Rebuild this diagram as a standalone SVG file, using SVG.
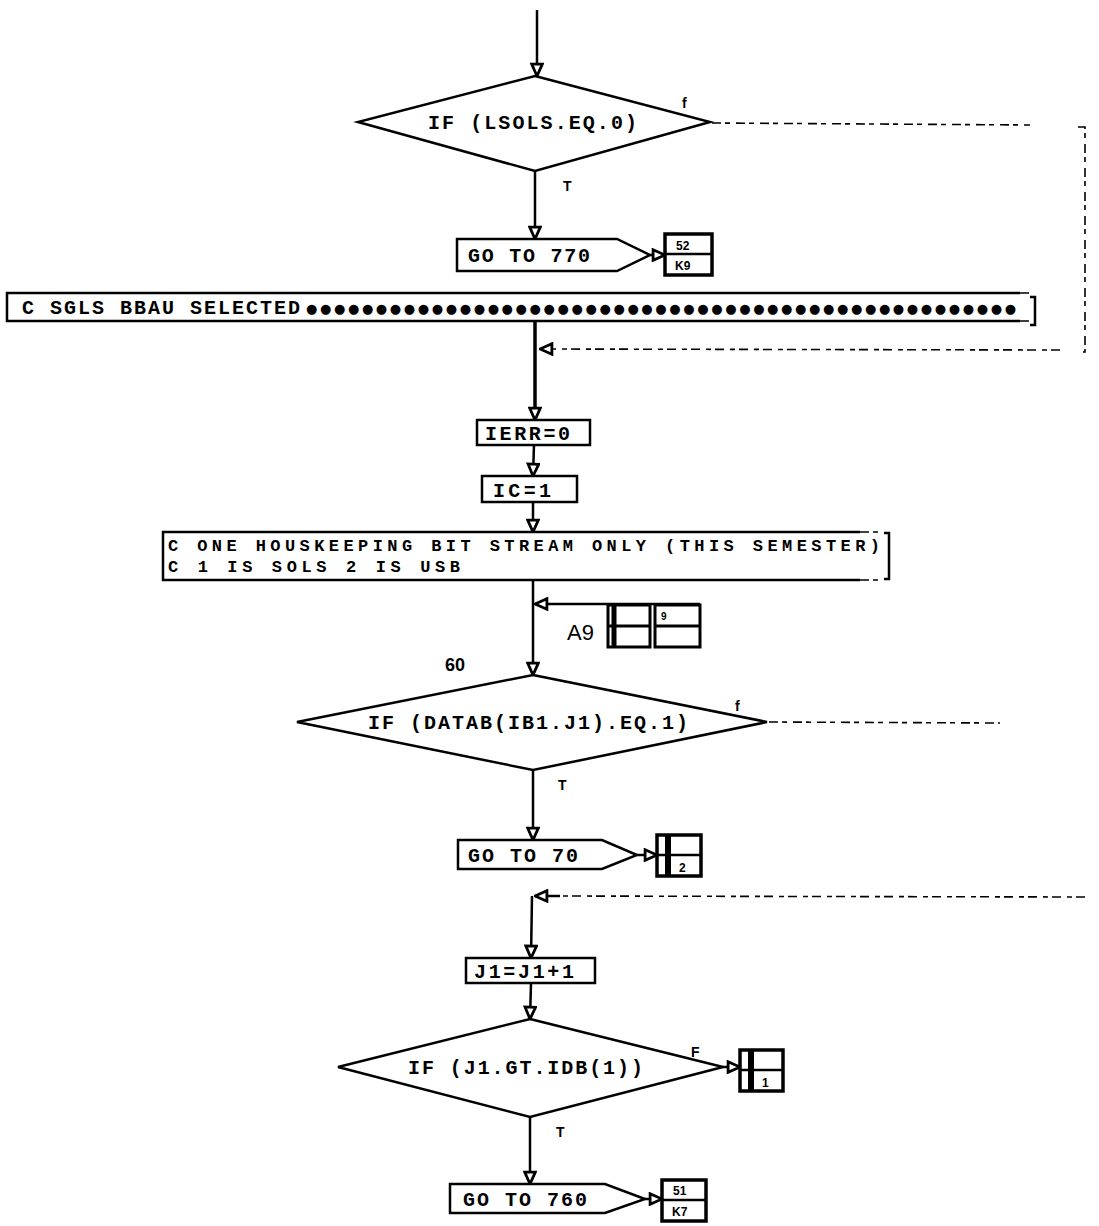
<svg xmlns="http://www.w3.org/2000/svg" width="1099" height="1226" viewBox="0 0 1099 1226">
<defs>
<marker id="arr" markerUnits="userSpaceOnUse" markerWidth="15" markerHeight="14" viewBox="0 0 10 10" refX="9.5" refY="5" orient="auto">
<path d="M1,1.2 L9.5,5 L1,8.8 z" fill="#fff" stroke="#000" stroke-width="2"/>
</marker>
</defs>
<style>
.ln{fill:none;stroke:#000;stroke-width:2.5}
.thk{fill:none;stroke:#000;stroke-width:3.5}
.dsh{fill:none;stroke:#000;stroke-width:1.6;stroke-dasharray:9 4 5 6}
.shp{fill:#fff;stroke:#000;stroke-width:2.5}
.cb{fill:#fff;stroke:#000;stroke-width:3.5}
.t{font-family:"Liberation Mono","DejaVu Sans Mono",monospace;font-weight:bold;font-size:20px;fill:#000}
.cm{font-family:"Liberation Mono","DejaVu Sans Mono",monospace;font-weight:bold;font-size:17px;fill:#000}
.s{font-family:"Liberation Sans","DejaVu Sans",sans-serif;font-weight:bold;font-size:14px;fill:#000}
.c{font-family:"Liberation Sans","DejaVu Sans",sans-serif;font-weight:bold;font-size:12px;fill:#000}
</style>
<rect width="1099" height="1226" fill="#fff"/>

<g id="connectors">
<path class="ln" d="M537,10 L537,76" marker-end="url(#arr)"/>
<path class="ln" d="M535,171 L535,239" marker-end="url(#arr)"/>
<path class="ln" d="M650,255 L665,255" marker-end="url(#arr)"/>
<path class="dsh" d="M712,123 L1030,125"/>
<path class="dsh" d="M1078,127 L1085,127 L1085,352 L1078,352"/>
<path class="dsh" d="M1060,350 L540,349" marker-end="url(#arr)"/>
<path class="thk" d="M535,322 L535,420" marker-end="url(#arr)"/>
<path class="ln" d="M534,445 L533,476" marker-end="url(#arr)"/>
<path class="ln" d="M533,502 L533,532" marker-end="url(#arr)"/>
<path class="ln" d="M533,580 L533,675" marker-end="url(#arr)"/>
<path class="ln" d="M700,604 L535,604" marker-end="url(#arr)"/>
<path class="ln" d="M533,770 L533,840" marker-end="url(#arr)"/>
<path class="ln" d="M637,855 L657,855" marker-end="url(#arr)"/>
<path class="dsh" d="M769,722 L1000,723"/>
<path class="dsh" d="M1085,897 L548,896"/>
<path class="ln" d="M560,896 L535,896" marker-end="url(#arr)"/>
<path class="ln" d="M532,896 L531,958" marker-end="url(#arr)"/>
<path class="ln" d="M531,983 L530,1019" marker-end="url(#arr)"/>
<path class="ln" d="M723,1067 L740,1067" marker-end="url(#arr)"/>
<path class="ln" d="M530,1117 L530,1184" marker-end="url(#arr)"/>
<path class="ln" d="M645,1199 L662,1199" marker-end="url(#arr)"/>
<text class="s" x="682" y="108">f</text>
<text class="s" x="563" y="191">T</text>
<text class="s" x="735" y="711">f</text>
<text class="s" x="558" y="790">T</text>
<text class="s" x="691" y="1057">F</text>
<text class="s" x="556" y="1137">T</text>
</g>

<g id="dec1">
<polygon class="shp" points="535,76 710,122 535,171 358,122"/>
<text class="t" x="428" y="129" textLength="209" lengthAdjust="spacing">IF (LSOLS.EQ.0)</text>
</g>

<g id="goto770">
<polygon class="shp" points="457,239 617,239 650,255 617,271 457,271"/>
<text class="t" x="468" y="262" textLength="122" lengthAdjust="spacing">GO TO 770</text>
</g>
<g id="conn1">
<rect class="cb" x="665" y="234" width="47" height="41"/>
<line class="ln" x1="665" y1="254" x2="712" y2="254"/>
<text class="c" x="676" y="250">52</text>
<text class="c" x="675" y="270">K9</text>
</g>

<g id="comment1">
<path class="ln" d="M1020,293 L7,293 L7,321 L1020,321"/>
<path class="dsh" d="M1020,293 L1032,293 M1020,321 L1032,321"/>
<path class="ln" d="M1030,297 L1035,297 L1035,325 L1030,325"/>
<text class="t" x="22" y="314" textLength="278" lengthAdjust="spacing">C SGLS BBAU SELECTED</text>
<text x="306" y="313" font-family="DejaVu Sans,sans-serif" font-size="13" textLength="710" lengthAdjust="spacing">●●●●●●●●●●●●●●●●●●●●●●●●●●●●●●●●●●●●●●●●●●●●●●●●●●●</text>
</g>

<g id="ierr">
<rect class="shp" x="477" y="420" width="113" height="25"/>
<text class="t" x="485" y="440" textLength="85" lengthAdjust="spacing">IERR=0</text>
</g>

<g id="ic">
<rect class="shp" x="482" y="476" width="95" height="26"/>
<text class="t" x="493" y="497" textLength="58" lengthAdjust="spacing">IC=1</text>
</g>

<g id="comment2">
<path class="ln" d="M860,532 L163,532 L163,580 L860,580"/>
<path class="dsh" d="M860,532 L884,532 M860,580 L884,580"/>
<path class="ln" d="M884,533 L889,533 L889,579 L884,579"/>
<text class="cm" x="168" y="551" textLength="712" lengthAdjust="spacing">C ONE HOUSKEEPING BIT STREAM ONLY  (THIS SEMESTER)</text>
<text class="cm" x="168" y="572" textLength="292" lengthAdjust="spacing">C 1 IS SOLS  2 IS USB</text>
</g>

<g id="connA9">
<text x="567" y="640" font-family="Liberation Sans,DejaVu Sans,sans-serif" font-size="22" fill="#000">A9</text>
<rect x="608" y="605" width="42" height="42" fill="#fff" stroke="#000" stroke-width="3"/>
<line x1="608" y1="626" x2="650" y2="626" stroke="#000" stroke-width="3"/>
<line x1="614" y1="605" x2="614" y2="647" stroke="#000" stroke-width="5"/>
<rect x="655" y="605" width="45" height="42" fill="#fff" stroke="#000" stroke-width="3"/>
<line x1="655" y1="626" x2="700" y2="626" stroke="#000" stroke-width="3"/>
<text class="c" x="661" y="620" style="font-size:10px">9</text>
</g>

<text id="label60" class="s" x="445" y="671" style="font-size:18px">60</text>

<g id="dec2">
<polygon class="shp" points="533,675 767,722 533,770 297,722"/>
<text class="t" x="368" y="729" textLength="320" lengthAdjust="spacing">IF (DATAB(IB1.J1).EQ.1)</text>
</g>

<g id="goto70">
<polygon class="shp" points="458,840 602,840 637,855 602,869 458,869"/>
<text class="t" x="468" y="862" textLength="110" lengthAdjust="spacing">GO TO 70</text>
</g>
<g id="conn2">
<rect class="cb" x="657" y="835" width="44" height="41"/>
<line class="ln" x1="657" y1="855" x2="701" y2="855"/>
<line x1="668" y1="835" x2="668" y2="876" stroke="#000" stroke-width="6"/>
<text class="c" x="679" y="872">2</text>
</g>

<g id="j1">
<rect class="shp" x="466" y="958" width="129" height="25"/>
<text class="t" x="474" y="978" textLength="100" lengthAdjust="spacing">J1=J1+1</text>
</g>

<g id="dec3">
<polygon class="shp" points="530,1019 723,1067 530,1117 338,1067"/>
<text class="t" x="408" y="1074" textLength="235" lengthAdjust="spacing">IF (J1.GT.IDB(1))</text>
</g>
<g id="conn3">
<rect class="cb" x="740" y="1050" width="43" height="41"/>
<line class="ln" x1="740" y1="1070" x2="783" y2="1070"/>
<line x1="751" y1="1050" x2="751" y2="1091" stroke="#000" stroke-width="6"/>
<text class="c" x="762" y="1087">1</text>
</g>

<g id="goto760">
<polygon class="shp" points="450,1184 605,1184 645,1199 605,1213 450,1213"/>
<text class="t" x="463" y="1206" textLength="124" lengthAdjust="spacing">GO TO 760</text>
</g>
<g id="conn4">
<rect class="cb" x="662" y="1180" width="44" height="41"/>
<line class="ln" x1="662" y1="1200" x2="706" y2="1200"/>
<text class="c" x="673" y="1195">51</text>
<text class="c" x="672" y="1216">K7</text>
</g>
</svg>
